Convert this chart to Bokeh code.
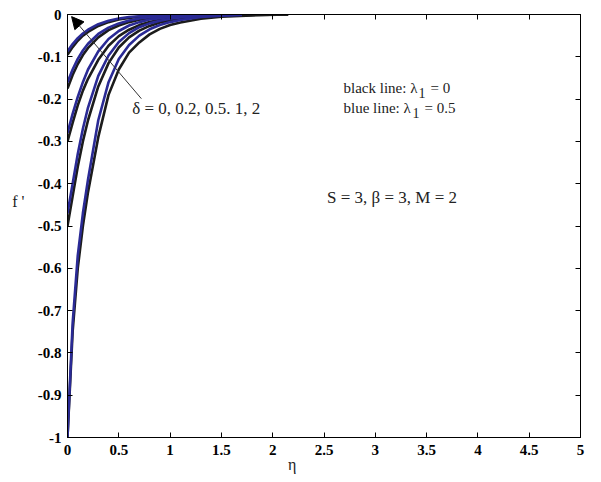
from bokeh.plotting import figure
from bokeh.models import Range1d, LinearAxis, FixedTicker, Label, Arrow, NormalHead
from bokeh.embed import file_html
from bokeh.resources import INLINE

# eta grids
eta_black = [0, 0.05, 0.1, 0.15, 0.2, 0.3, 0.4, 0.5, 0.6, 0.7, 0.8, 0.9, 1.0, 1.1, 1.3, 1.5, 1.8, 2.15]
eta_blue = [0, 0.05, 0.1, 0.15, 0.2, 0.3, 0.4, 0.5, 0.6, 0.7, 0.8, 0.9, 1.0, 1.1, 1.3, 1.5, 1.7]

delta_values = [0, 0.2, 0.5, 1, 2]

# black lines: lambda1 = 0
fp_black_d0 = [-1.0, -0.75, -0.60, -0.50, -0.42, -0.29, -0.19, -0.13, -0.09, -0.066, -0.047, -0.034, -0.025, -0.019, -0.010, -0.005, -0.002, 0.0]
fp_black_d02 = [-0.50, -0.43, -0.36, -0.30, -0.25, -0.17, -0.115, -0.078, -0.054, -0.038, -0.027, -0.019, -0.014, -0.010, -0.0055, -0.003, -0.001, 0.0]
fp_black_d05 = [-0.30, -0.256, -0.215, -0.18, -0.152, -0.107, -0.074, -0.051, -0.036, -0.025, -0.018, -0.0125, -0.009, -0.0065, -0.0035, -0.0018, -0.0006, 0.0]
fp_black_d1 = [-0.175, -0.143, -0.117, -0.096, -0.079, -0.054, -0.037, -0.026, -0.018, -0.0125, -0.0088, -0.0062, -0.0043, -0.003, -0.0015, -0.0007, -0.0002, 0.0]
fp_black_d2 = [-0.095, -0.077, -0.062, -0.050, -0.041, -0.027, -0.018, -0.012, -0.008, -0.0055, -0.0038, -0.0026, -0.0018, -0.0012, -0.0006, -0.0002, 0.0, 0.0]

# blue lines: lambda1 = 0.5
fp_blue_d0 = [-1.0, -0.73, -0.57, -0.47, -0.39, -0.25, -0.16, -0.105, -0.072, -0.05, -0.035, -0.025, -0.018, -0.013, -0.006, -0.003, -0.001]
fp_blue_d02 = [-0.47, -0.40, -0.33, -0.27, -0.22, -0.145, -0.097, -0.065, -0.044, -0.03, -0.021, -0.015, -0.01, -0.007, -0.0035, -0.0015, 0.0]
fp_blue_d05 = [-0.28, -0.235, -0.195, -0.16, -0.13, -0.087, -0.058, -0.039, -0.026, -0.018, -0.012, -0.0085, -0.006, -0.004, -0.002, -0.001, 0.0]
fp_blue_d1 = [-0.16, -0.13, -0.105, -0.085, -0.069, -0.046, -0.031, -0.021, -0.014, -0.0095, -0.0064, -0.0045, -0.003, -0.002, -0.0009, -0.0004, 0.0]
fp_blue_d2 = [-0.087, -0.070, -0.056, -0.045, -0.036, -0.023, -0.015, -0.0095, -0.006, -0.004, -0.0025, -0.0016, -0.001, -0.0006, -0.0003, -0.0001, 0.0]

x_ticks = [0, 0.5, 1, 1.5, 2, 2.5, 3, 3.5, 4, 4.5, 5]
y_ticks = [-1, -0.9, -0.8, -0.7, -0.6, -0.5, -0.4, -0.3, -0.2, -0.1, 0]
x_tick_labels = {0: "0", 0.5: "0.5", 1: "1", 1.5: "1.5", 2: "2", 2.5: "2.5", 3: "3", 3.5: "3.5", 4: "4", 4.5: "4.5", 5: "5"}
y_tick_labels = {-1: "-1", -0.9: "-0.9", -0.8: "-0.8", -0.7: "-0.7", -0.6: "-0.6", -0.5: "-0.5",
                 -0.4: "-0.4", -0.3: "-0.3", -0.2: "-0.2", -0.1: "-0.1", 0: "0"}
x_title = "\u03b7"
y_title = "f '"
x_title_pos = 2.19
y_title_pos = -0.442

BLACK = "#1c1c1c"
BLUE = "#2a2a95"
SERIF = "Liberation Serif"

p = figure(frame_width=513, frame_height=423, output_backend="svg", toolbar_location=None,
           x_range=Range1d(0, 5), y_range=Range1d(-1, 0),
           min_border_left=67, min_border_right=10, min_border_top=14, min_border_bottom=36,
           x_axis_location=None, y_axis_location=None)
p.grid.visible = False
p.background_fill_color = "white"
p.border_fill_color = "white"
p.outline_line_color = "black"
p.outline_line_width = 1


def make_axis(ticks, labels, show):
    ax = LinearAxis(ticker=FixedTicker(ticks=ticks))
    ax.major_tick_in = 5
    ax.major_tick_out = 0
    ax.minor_tick_line_color = None
    ax.axis_line_color = "black"
    ax.major_tick_line_color = "black"
    if show:
        ax.major_label_overrides = labels
        ax.major_label_text_font = SERIF
        ax.major_label_text_font_style = "bold"
        ax.major_label_text_font_size = "15px"
        ax.major_label_text_color = "black"
    else:
        ax.major_label_text_font_size = "0px"
        ax.major_label_text_color = None
        ax.major_label_standoff = 0
    return ax


def title_axis(pos, text, standoff):
    ax = LinearAxis(ticker=FixedTicker(ticks=[pos]))
    ax.major_label_overrides = {pos: text}
    ax.axis_line_color = None
    ax.major_tick_line_color = None
    ax.minor_tick_line_color = None
    ax.major_tick_in = 0
    ax.major_tick_out = 0
    ax.major_label_text_font = SERIF
    ax.major_label_text_font_size = "16px"
    ax.major_label_text_color = "#222222"
    ax.major_label_standoff = standoff
    return ax


xb = make_axis(x_ticks, x_tick_labels, True)
xb.major_label_standoff = 7
yl = make_axis(y_ticks, y_tick_labels, True)
yl.major_label_standoff = 6
p.add_layout(xb, "below")
p.add_layout(yl, "left")
p.add_layout(make_axis(x_ticks, x_tick_labels, False), "above")
p.add_layout(make_axis(y_ticks, y_tick_labels, False), "right")
p.add_layout(title_axis(x_title_pos, x_title, -2), "below")
p.add_layout(title_axis(y_title_pos, y_title, 10), "left")

black_series = [fp_black_d0, fp_black_d02, fp_black_d05, fp_black_d1, fp_black_d2]
blue_series = [fp_blue_d0, fp_blue_d02, fp_blue_d05, fp_blue_d1, fp_blue_d2]
for ys in black_series:
    p.line(eta_black, ys, line_color=BLACK, line_width=2.6)
for ys in blue_series:
    p.line(eta_blue, ys, line_color=BLUE, line_width=2.6)

# Arrow for delta direction
p.add_layout(Arrow(end=NormalHead(size=12, fill_color="black", line_color="black"),
                   x_start=0.72, y_start=-0.199, x_end=0.04, y_end=-0.005,
                   line_color="#333333", line_width=1))


def lab(x, y, text, size="15px", **kw):
    p.add_layout(Label(x=x, y=y, text=text, text_font=SERIF, text_font_size=size,
                       text_color="#222222", text_baseline="middle", **kw))


lab(0.63, -0.222, "\u03b4 = 0, 0.2, 0.5. 1, 2", size="17px")
lab(2.69, -0.173, "black line: \u03bb")
lab(2.69, -0.173, "1", size="14px", x_offset=75, y_offset=-5)
lab(2.69, -0.173, "= 0", x_offset=87)
lab(2.69, -0.222, "blue line: \u03bb")
lab(2.69, -0.222, "1", size="14px", x_offset=69, y_offset=-5)
lab(2.69, -0.222, "= 0.5", x_offset=81)
lab(2.53, -0.433, "S = 3, \u03b2 = 3, M = 2", size="17px")

open("out.html", "w").write(file_html(p, INLINE))
